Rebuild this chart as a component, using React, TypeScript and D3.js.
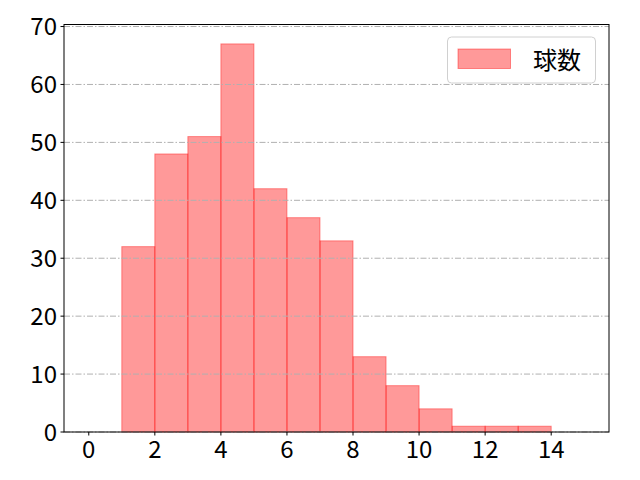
import { useMemo } from "react";
import * as d3 from "d3";

const width = 640;
const height = 480;

const margin = { top: 24.5, right: 31, bottom: 48, left: 64 };

// ヒストグラムのビン（左端）と度数
const binStarts = [0, 1, 2, 3, 4, 5, 6, 7, 8, 9, 10, 11, 12, 13, 14];
const counts = [0, 32, 48, 51, 67, 42, 37, 33, 13, 8, 4, 1, 1, 1, 0];

const xTicks = [0, 2, 4, 6, 8, 10, 12, 14];
const yTicks = [0, 10, 20, 30, 40, 50, 60, 70];

const seriesLabel = "球数";

const fontFamily = "'Noto Sans CJK JP', 'Noto Sans', sans-serif";

export default function App() {
  const innerW = width - margin.left - margin.right;
  const innerH = height - margin.top - margin.bottom;

  const { x, y } = useMemo(() => {
    const lo = binStarts[0];
    const hi = binStarts[binStarts.length - 1] + 1;
    const pad = (hi - lo) * 0.05;
    const yMax = (d3.max(counts) ?? 0) * 1.05;
    return {
      x: d3.scaleLinear().domain([lo - pad, hi + pad]).range([0, innerW]),
      y: d3.scaleLinear().domain([0, yMax]).range([innerH, 0]),
    };
  }, [innerW, innerH]);

  return (
    <svg
      width={width}
      height={height}
      style={{ position: "fixed", left: 0, top: 0, background: "#fff" }}
      fontFamily={fontFamily}
    >
      <g transform={`translate(${margin.left},${margin.top})`}>
        {/* 棒 */}
        {binStarts.map((b, i) => (
          <rect
            key={b}
            x={x(b)}
            y={y(counts[i])}
            width={x(b + 1) - x(b)}
            height={innerH - y(counts[i])}
            fill="red"
            fillOpacity={0.4}
            stroke="red"
            strokeOpacity={0.4}
            strokeWidth={1}
          />
        ))}

        {/* グリッド */}
        {yTicks.map((t) => (
          <line
            key={t}
            x1={0}
            x2={innerW}
            y1={y(t)}
            y2={y(t)}
            stroke="#b0b0b0"
            strokeWidth={1}
            strokeDasharray="6,2,1.5,2"
          />
        ))}

        {/* 枠 */}
        <rect
          x={0}
          y={0}
          width={innerW}
          height={innerH}
          fill="none"
          stroke="#000"
          strokeWidth={1}
        />

        {/* Y軸 */}
        {yTicks.map((t) => (
          <g key={t} transform={`translate(0,${y(t)})`}>
            <line x1={-3.5} x2={0} stroke="#000" />
            <text
              x={-7}
              dy="0.36em"
              textAnchor="end"
              fontSize={24}
              fill="#000"
            >
              {t}
            </text>
          </g>
        ))}

        {/* X軸 */}
        {xTicks.map((t) => (
          <g key={t} transform={`translate(${x(t)},${innerH})`}>
            <line y1={0} y2={3.5} stroke="#000" />
            <text y={7} dy="0.8em" textAnchor="middle" fontSize={24} fill="#000">
              {t}
            </text>
          </g>
        ))}

        {/* 凡例 */}
        <g transform={`translate(${447.5 - margin.left},${37 - margin.top})`}>
          <rect
            width={148}
            height={46}
            rx={4}
            fill="#fff"
            fillOpacity={0.8}
            stroke="#d0d0d0"
          />
          <rect
            x={10.5}
            y={12}
            width={52.5}
            height={19.5}
            fill="red"
            fillOpacity={0.4}
            stroke="red"
            strokeOpacity={0.4}
          />
          <text x={85.5} y={23} dy="0.36em" fontSize={24} fill="#000">
            {seriesLabel}
          </text>
        </g>
      </g>
    </svg>
  );
}
